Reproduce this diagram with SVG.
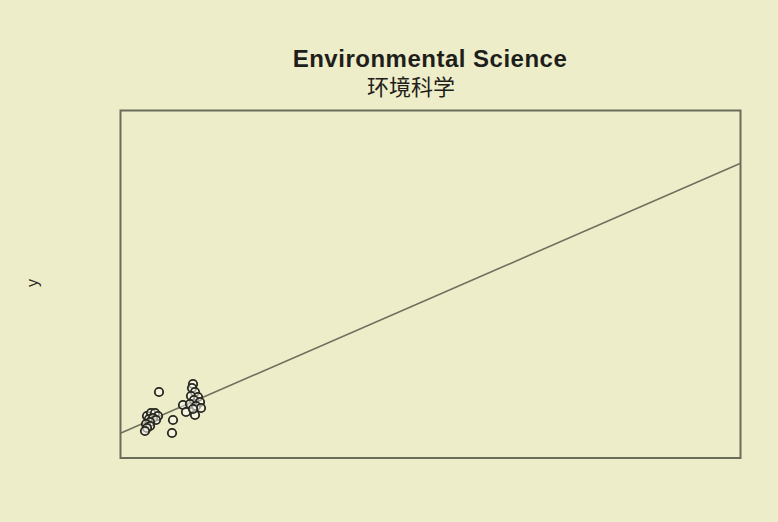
<svg xmlns="http://www.w3.org/2000/svg" width="778" height="522" viewBox="0 0 778 522">
<style>
.title{font-family:"Liberation Sans",Arial,sans-serif;font-weight:bold;font-size:24px;letter-spacing:0.5px;fill:#1e1e1a}
.sub{font-family:"Liberation Sans","Noto Sans CJK SC",sans-serif;font-size:22px;fill:#1e1e1a}
.lab{font-family:"Liberation Sans",Arial,sans-serif;font-size:16px;fill:#2a2a24}
.pt{fill:#fafaf0;fill-opacity:0.55;stroke:#26261f;stroke-width:1.8}
</style>
<rect width="778" height="522" fill="#eeedc9"/>
<g id="title">
<text class="title" x="430" y="67" text-anchor="middle">Environmental Science</text>
<text class="sub" x="411" y="95" text-anchor="middle">环境科学</text>
</g>
<g id="ylabel">
<text class="lab" transform="translate(38,283) rotate(-90)" text-anchor="middle">y</text>
</g>
<g id="plot-frame">
<rect x="120.5" y="110.5" width="620" height="347.5" fill="none" stroke="#6b6d5c" stroke-width="2"/>
</g>
<g id="connectors">
<line x1="121" y1="433" x2="740" y2="163.5" stroke="#6f715e" stroke-width="1.6"/>
</g>
<g id="points">
<circle class="pt" cx="159" cy="392" r="4.2"/>
<circle class="pt" cx="173" cy="420" r="4.2"/>
<circle class="pt" cx="172" cy="433" r="4.2"/>
<circle class="pt" cx="183" cy="405" r="4.2"/>
<circle class="pt" cx="186" cy="412" r="4.2"/>
<circle class="pt" cx="195" cy="415" r="4.2"/>
<circle class="pt" cx="193" cy="384" r="4.2"/>
<circle class="pt" cx="192" cy="388" r="4.2"/>
<circle class="pt" cx="195" cy="392" r="4.2"/>
<circle class="pt" cx="191" cy="396" r="4.2"/>
<circle class="pt" cx="198" cy="397" r="4.2"/>
<circle class="pt" cx="194" cy="400" r="4.2"/>
<circle class="pt" cx="200" cy="402" r="4.2"/>
<circle class="pt" cx="190" cy="404" r="4.2"/>
<circle class="pt" cx="196" cy="406" r="4.2"/>
<circle class="pt" cx="201" cy="408" r="4.2"/>
<circle class="pt" cx="193" cy="409" r="4.2"/>
<circle class="pt" cx="147" cy="416" r="4.2"/>
<circle class="pt" cx="151" cy="413" r="4.2"/>
<circle class="pt" cx="155" cy="413" r="4.2"/>
<circle class="pt" cx="158" cy="416" r="4.2"/>
<circle class="pt" cx="149" cy="419" r="4.2"/>
<circle class="pt" cx="153" cy="418" r="4.2"/>
<circle class="pt" cx="156" cy="420" r="4.2"/>
<circle class="pt" cx="150" cy="422" r="4.2"/>
<circle class="pt" cx="146" cy="424" r="4.2"/>
<circle class="pt" cx="150" cy="426" r="4.2"/>
<circle class="pt" cx="147" cy="428" r="4.2"/>
<circle class="pt" cx="145" cy="431" r="4.2"/>
</g>
</svg>
